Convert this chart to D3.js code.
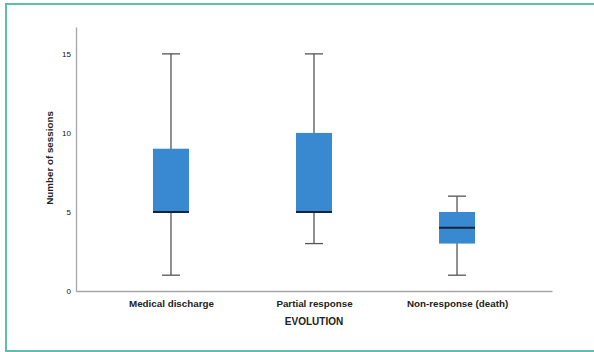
<!DOCTYPE html>
<html><head><meta charset="utf-8">
<script src="https://cdn.jsdelivr.net/npm/d3@7"></script>
<style>body{margin:0;background:#fff}svg{display:block}text{font-family:"Liberation Sans",Arial,sans-serif}</style>
</head><body>
<svg id="c" width="594" height="352"></svg>
<script>
const categories = ["Medical discharge", "Partial response", "Non-response (death)"];
const mins    = [1, 3, 1];
const q1s     = [5, 5, 3];
const medians = [5, 5, 4];
const q3s     = [9, 10, 5];
const maxs    = [15, 15, 6];
const yTicks  = [0, 5, 10, 15];

const svg = d3.select("#c");
svg.append("rect").attr("x", 6).attr("y", 4).attr("width", 620).attr("height", 347)
  .attr("fill", "none").attr("stroke", "#5cbfae").attr("stroke-width", 2);

const x = d3.scalePoint().domain(categories).range([76, 552]).padding(0.664);
const y = d3.scaleLinear().domain([0, 16.7]).range([291, 27]);

// axes
const gy = svg.append("g").attr("transform", "translate(76,0)")
  .call(d3.axisLeft(y).tickValues(yTicks).tickSize(0).tickPadding(5));
gy.select(".domain").attr("stroke", "#a6a6a6").attr("stroke-width", 1.3);
gy.selectAll("text").attr("font-size", 8).attr("fill", "#111");

const gx = svg.append("g").attr("transform", "translate(0,291)")
  .call(d3.axisBottom(x).tickSize(0).tickPadding(9));
gx.select(".domain").attr("stroke", "#a6a6a6").attr("stroke-width", 1.3);
gx.selectAll("text").attr("font-size", 9.8).attr("font-weight", "bold").attr("fill", "#222");

svg.append("text").attr("x", 314).attr("y", 325).attr("text-anchor", "middle")
  .attr("font-size", 10).attr("font-weight", "bold").attr("fill", "#222").text("EVOLUTION");
svg.append("text").attr("transform", "translate(53,158) rotate(-90)").attr("text-anchor", "middle")
  .attr("font-size", 9.8).attr("font-weight", "bold").attr("fill", "#222").text("Number of sessions");

const data = categories.map((c, i) => ({c, min: mins[i], q1: q1s[i], med: medians[i], q3: q3s[i], max: maxs[i]}));
const bw = 36, cw = 18;
const g = svg.append("g").selectAll("g").data(data).join("g");
g.append("line").attr("x1", d => x(d.c)).attr("x2", d => x(d.c))
  .attr("y1", d => y(d.min)).attr("y2", d => y(d.max)).attr("stroke", "#555").attr("stroke-width", 1.3);
g.append("line").attr("x1", d => x(d.c) - cw/2).attr("x2", d => x(d.c) + cw/2)
  .attr("y1", d => y(d.max)).attr("y2", d => y(d.max)).attr("stroke", "#555").attr("stroke-width", 1.3);
g.append("line").attr("x1", d => x(d.c) - cw/2).attr("x2", d => x(d.c) + cw/2)
  .attr("y1", d => y(d.min)).attr("y2", d => y(d.min)).attr("stroke", "#555").attr("stroke-width", 1.3);
g.append("rect").attr("x", d => x(d.c) - bw/2).attr("width", bw)
  .attr("y", d => y(d.q3)).attr("height", d => y(d.q1) - y(d.q3)).attr("fill", "#3889d0");
g.append("line").attr("x1", d => x(d.c) - bw/2).attr("x2", d => x(d.c) + bw/2)
  .attr("y1", d => y(d.med)).attr("y2", d => y(d.med)).attr("stroke", "#15233d").attr("stroke-width", 2);
</script>
</body></html>
